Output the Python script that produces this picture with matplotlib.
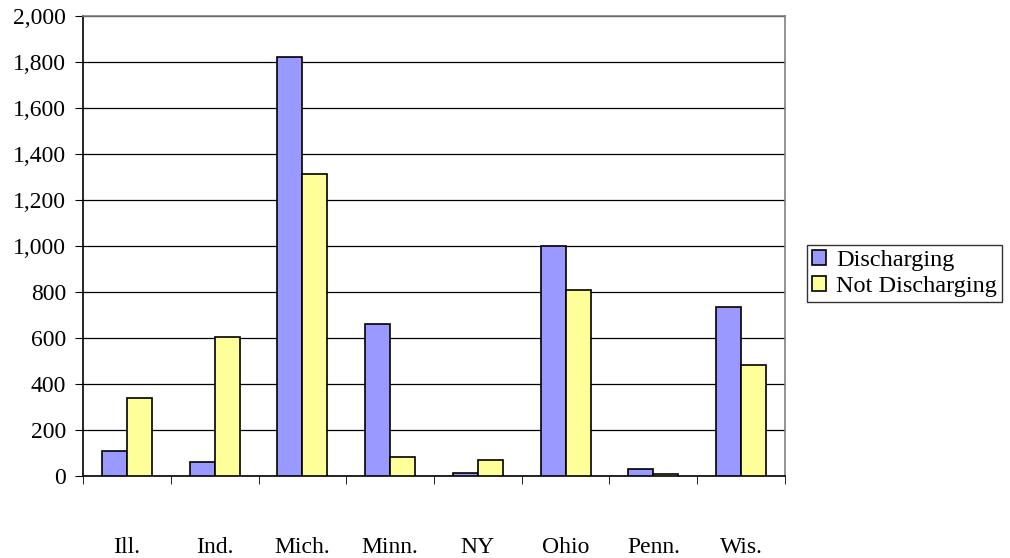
import numpy as np
import matplotlib
matplotlib.use('Agg')
import matplotlib.pyplot as plt

states = ["Ill.", "Ind.", "Mich.", "Minn.", "NY", "Ohio", "Penn.", "Wis."]
discharging = [110, 60, 1820, 662, 14, 1000, 30, 732]
not_discharging = [340, 605, 1310, 84, 68, 810, 7, 480]
series_labels = ["Discharging", "Not Discharging"]

plt.rcParams['font.family'] = ['Liberation Serif', 'DejaVu Serif']

fig = plt.figure(figsize=(10.1, 5.58), dpi=100)
ax = fig.add_axes([0.0822, 0.147, 0.695, 0.825])

x = np.arange(len(states))
w = 0.285
ax.bar(x - w / 2, discharging, w, color="#9999FF", edgecolor="black", linewidth=1.2,
       label=series_labels[0], zorder=3)
ax.bar(x + w / 2, not_discharging, w, color="#FFFF99", edgecolor="black", linewidth=1.2,
       label=series_labels[1], zorder=3)

ax.set_xlim(-0.5, len(states) - 0.5)
ax.set_ylim(0, 2000)
ax.set_yticks(range(0, 2001, 200))
ax.set_yticklabels([f"{v:,}" for v in range(0, 2001, 200)], fontsize=17)

# category labels centred, ticks at category boundaries
ax.set_xticks(x)
ax.set_xticklabels(states, fontsize=17)
ax.tick_params(axis="x", length=0, pad=44)
ax.set_xticks(np.arange(-0.5, len(states)), minor=True)
ax.tick_params(axis="x", which="minor", length=6, direction="out", color="black")
ax.tick_params(axis="y", length=6, direction="out", color="black", pad=6)

ax.grid(axis="y", color="black", linewidth=0.9, zorder=0)
ax.spines["left"].set_color("black")
ax.spines["bottom"].set_color("black")
ax.spines["top"].set_color("#808080")
ax.spines["right"].set_color("#808080")
for s in ax.spines.values():
    s.set_linewidth(1.2)

leg = fig.legend(loc="center left", bbox_to_anchor=(0.799, 0.510), fontsize=17.5,
                 frameon=True, fancybox=False, edgecolor="black",
                 handlelength=0.6, handleheight=0.6, handletextpad=0.4,
                 borderpad=0.2, labelspacing=0.2, borderaxespad=0)
leg.get_frame().set_linewidth(1.0)

plt.savefig("out.png", dpi=100)
